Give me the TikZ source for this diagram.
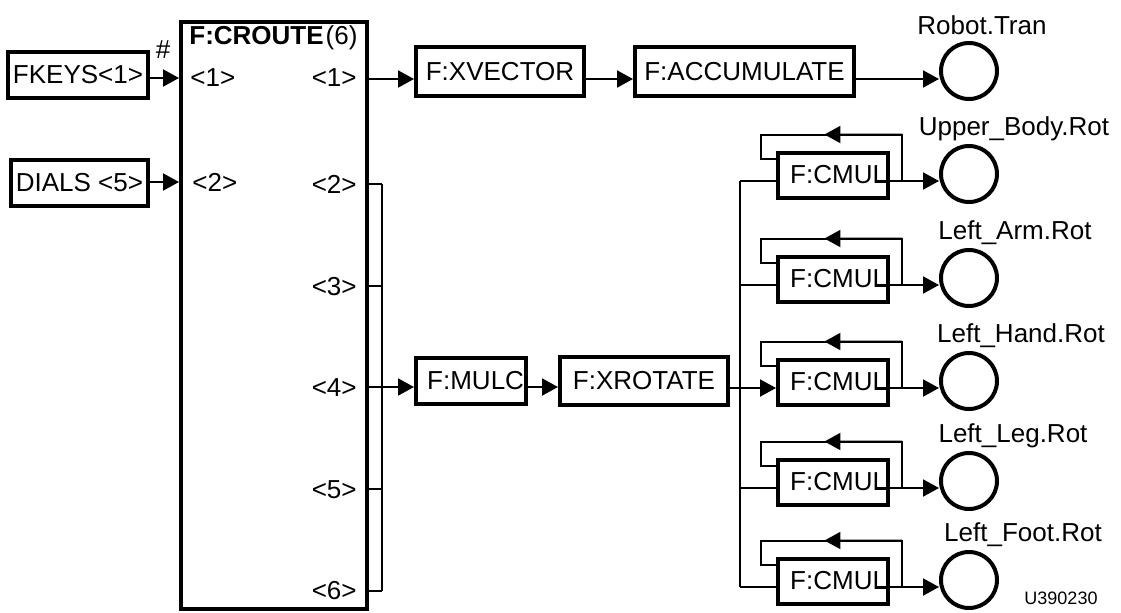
\documentclass[tikz,border=0pt]{standalone}
\usepackage{fontspec}
\setmainfont{Liberation Sans}
\usetikzlibrary{arrows.meta,calc}
\begin{document}
\begin{tikzpicture}[x=0.5pt,y=-0.5pt,
  box/.style={draw, line width=2pt, inner sep=0pt, font=\fontsize{13}{15}\selectfont},
  lbl/.style={inner sep=0pt, font=\fontsize{13}{15}\selectfont},
  wire/.style={line width=1pt},
  arr/.style={wire, -{Triangle[length=8pt,width=8.5pt]}},
  outc/.style={circle, draw, line width=2pt, minimum size=28pt, inner sep=0pt}]
\useasboundingbox (0,0) rectangle (1121,612);
% inputs
\node[box,minimum width=70pt,minimum height=23pt] (fkeys) at (78,75) {FKEYS<1>};
\node[box,minimum width=68.5pt,minimum height=23pt] (dials) at (79.5,183) {DIALS <5>};
% router
\node[draw,line width=2pt,minimum width=93pt,minimum height=293.5pt,inner sep=0pt] (croute) at (274,315.5) {};
\node[lbl,anchor=west] (title) at (189,38) {\textbf{F:CROUTE}\kern1pt(6)};
\node[lbl] (hash) at (163,50) {\#};
\node[lbl,anchor=west] (in1) at (190,78) {<1>};
\node[lbl,anchor=west] (in2) at (192,182) {<2>};
\foreach \i/\y in {1/78,2/184,3/287,4/388,5/490,6/591}
  \node[lbl,anchor=east] (out\i) at (357,\y) {<\i>};
\draw[arr] (fkeys.east |- in1) -- (croute.west |- in1);
\draw[arr] (dials.east |- in2) -- (croute.west |- in2);
% bus
\foreach \k/\y in {1/184,2/286,3/387,4/489,5/591}{
  \coordinate (b\k) at (382,\y);
  \draw[wire] (croute.east |- b\k) -- (b\k);
}
\draw[wire] (b1) -- (b5);
% top row
\node[box,minimum width=84pt,minimum height=24.5pt] (xvec) at (500,71.5) {F:XVECTOR};
\node[box,minimum width=109.5pt,minimum height=24.5pt] (acc) at (744.5,71.5) {F:ACCUMULATE};
\node[outc] (robot) at (969,71) {};
\node[lbl] (robotl) at (982,25) {Robot.Tran};
\coordinate (r1) at (0,79);
\draw[arr] (croute.east |- r1) -- (xvec.west |- r1);
\draw[arr] (xvec.east |- r1) -- (acc.west |- r1);
\draw[arr] (acc.east |- r1) -- (robot.west |- r1);
% middle row
\node[box,minimum width=55pt,minimum height=23pt] (mulc) at (471,381) {\makebox[53pt][r]{F:MULC}};
\node[box,minimum width=84pt,minimum height=24pt] (xrot) at (644,381) {F:XROTATE};
\draw[arr] (b3) -- (b3 -| mulc.west);
\draw[arr] (mulc.east |- b3) -- (b3 -| xrot.west);
% CMUL rows
\foreach \i/\y/\lab/\lx in {1/181/Upper\_Body.Rot/1014, 2/285/Left\_Arm.Rot/1015, 3/388/Left\_Hand.Rot/1021, 4/488/Left\_Leg.Rot/1013, 5/587/Left\_Foot.Rot/1023}{
  \node[box,minimum width=55pt,minimum height=22.5pt] (cm\i) at (833,\y-6) {\makebox[54pt][r]{F:CMUL}};
  \node[outc] (o\i) at (969,\y-7) {};
  \node[lbl] (ol\i) at (\lx,\y-52) {\lab};
  \coordinate (tk\i) at (740,\y);
  \coordinate (fs\i) at (877,\y);
  \coordinate (fr\i) at (902,\y);
  \coordinate (ft\i) at (902,\y-46.5);
  \coordinate (fl\i) at (761,\y-46.5);
  \coordinate (fe\i) at (cm\i.west |- 0,\y-22.5);
  \draw[wire] (fs\i) -- (fr\i) -- (ft\i) -- (fl\i) |- (fe\i);
  \draw[arr] (ft\i) -- ($(ft\i)!0.55!(fl\i)$);
  \draw[arr] (fr\i) -- (o\i.west |- fr\i);
}
\draw[wire] (xrot.east |- tk3) -- (tk3);
\draw[wire] (tk1) -- (tk5);
\foreach \i in {1,2,4,5}
  \draw[wire] (tk\i) -- (tk\i -| cm\i.west);
\draw[arr] (tk3) -- (tk3 -| cm3.west);
\node[lbl,font=\fontsize{9}{10}\selectfont] (code) at (1061,598) {U390230};
\end{tikzpicture}
\end{document}
